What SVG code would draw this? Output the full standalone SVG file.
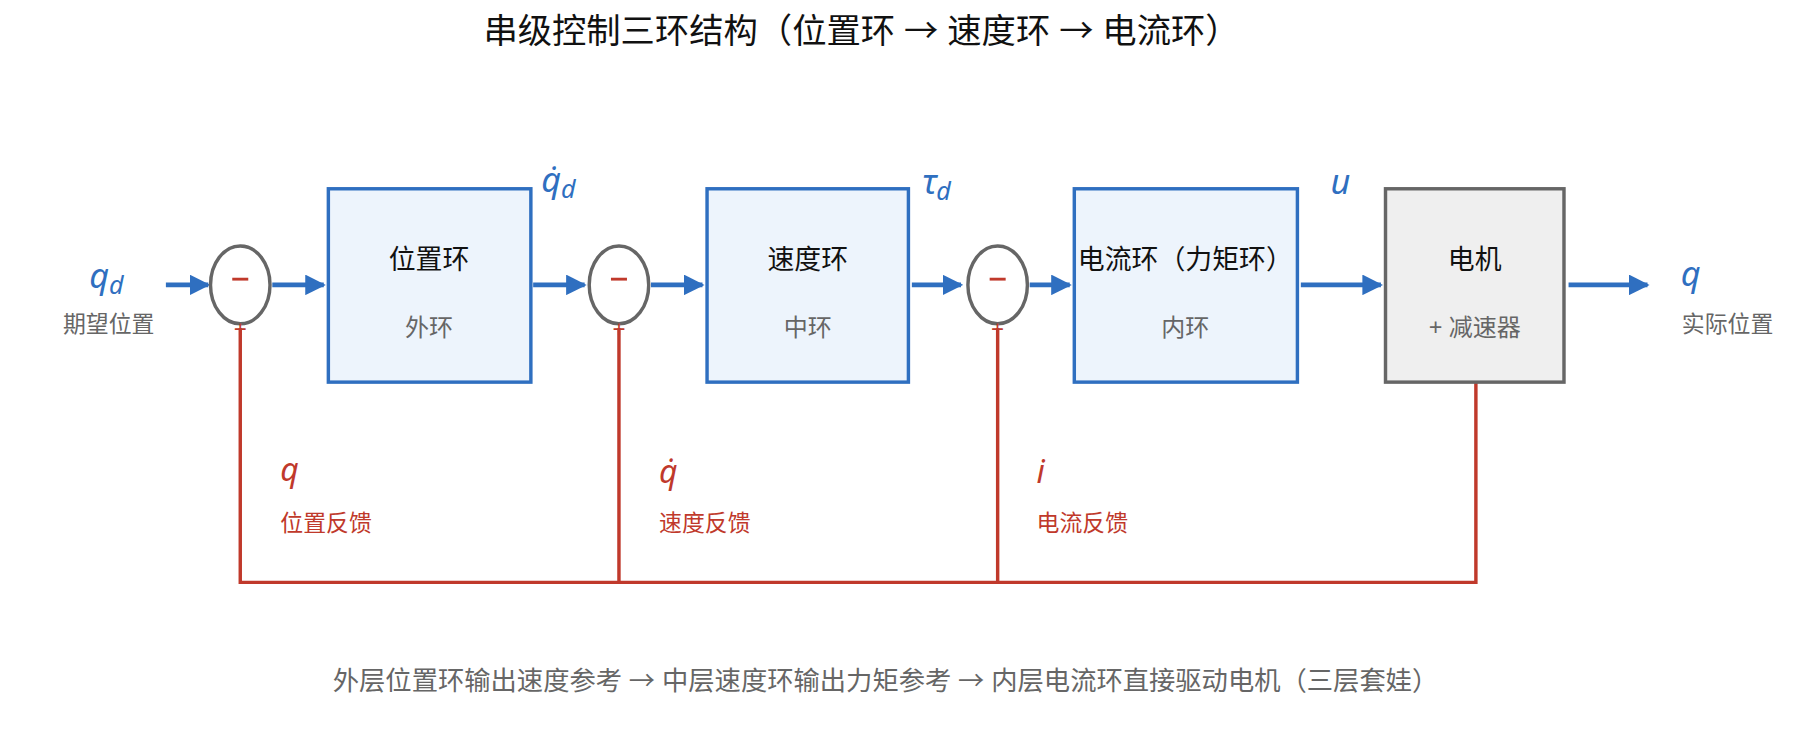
<svg xmlns="http://www.w3.org/2000/svg" width="1794" height="748" viewBox="0 0 1794 748">
<defs>
<marker id="ah" viewBox="0 0 10 10" refX="9" refY="5" markerWidth="4.5" markerHeight="4.5" markerUnits="strokeWidth" orient="auto"><path d="M0,0 L10,5 L0,10 z" fill="#2F6FC0"/></marker>
<style>
text{font-family:"Noto Sans","Noto Sans CJK SC",sans-serif}
.blk{fill:#EDF4FC;stroke:#2F6FC0;stroke-width:3}
.mot{fill:#EFEFEF;stroke:#666;stroke-width:3}
.sum{fill:#fff;stroke:#666;stroke-width:3}
.t1{font-size:23.5px;fill:#111;text-anchor:middle}
.t2{font-size:21px;fill:#666;text-anchor:middle}
.ar{stroke:#2F6FC0;stroke-width:4;fill:none;marker-end:url(#ah)}
.fb{stroke:#C0392B;stroke-width:3;fill:none}
.bl{fill:#2F6FC0;font-style:italic;font-size:30px}
.rd{fill:#C0392B;font-style:italic;font-size:28px}
.rl{fill:#C0392B;font-size:20px}
.gl{fill:#666;font-size:20px}
.mn{stroke:#C0392B;stroke-width:2.5}
.sg{fill:#C0392B;font-size:20px;text-anchor:middle}
</style>
</defs>
<rect width="1794" height="748" fill="#fff"/>
<g transform="scale(1.1441,1.1441)">
<text x="753" y="38" font-size="30" fill="#111" text-anchor="middle">串级控制三环结构（位置环 → 速度环 → 电流环）</text>
<g id="connectors">
<path class="fb" d="M210,287 V509 H1290 V334 M541,287 V509 M872,287 V509"/>
<line class="ar" x1="145" y1="249" x2="182" y2="249"/>
<line class="ar" x1="238" y1="249" x2="283" y2="249"/>
<line class="ar" x1="466" y1="249" x2="511" y2="249"/>
<line class="ar" x1="569" y1="249" x2="614" y2="249"/>
<line class="ar" x1="797" y1="249" x2="840" y2="249"/>
<line class="ar" x1="900" y1="249" x2="935" y2="249"/>
<line class="ar" x1="1137" y1="249" x2="1207" y2="249"/>
<line class="ar" x1="1371" y1="249" x2="1440" y2="249"/>
</g>
<g id="sum1"><ellipse class="sum" cx="210" cy="249" rx="26" ry="34"/><line class="mn" x1="203" y1="244" x2="217" y2="244"/><text class="sg" x="210" y="295">+</text></g>
<g id="sum2"><ellipse class="sum" cx="541" cy="249" rx="26" ry="34"/><line class="mn" x1="534" y1="244" x2="548" y2="244"/><text class="sg" x="541" y="295">+</text></g>
<g id="sum3"><ellipse class="sum" cx="872" cy="249" rx="26" ry="34"/><line class="mn" x1="865" y1="244" x2="879" y2="244"/><text class="sg" x="872" y="295">+</text></g>
<g id="pos"><rect class="blk" x="287" y="165" width="177" height="169"/><text class="t1" x="375" y="235">位置环</text><text class="t2" x="375" y="294">外环</text></g>
<g id="vel"><rect class="blk" x="618" y="165" width="176" height="169"/><text class="t1" x="706" y="235">速度环</text><text class="t2" x="706" y="294">中环</text></g>
<g id="cur"><rect class="blk" x="939" y="165" width="195" height="169"/><text class="t1" x="1036" y="235">电流环（力矩环）</text><text class="t2" x="1036" y="294">内环</text></g>
<g id="motor"><rect class="mot" x="1211" y="165" width="156" height="169"/><text class="t1" x="1289" y="235">电机</text><text class="t2" x="1289" y="294">+ 减速器</text></g>
<g id="labels">
<text class="bl" x="78" y="252">q<tspan font-size="22" dy="5">d</tspan></text>
<text class="gl" x="55" y="290">期望位置</text>
<text class="bl" x="473" y="168" font-size="28">q̇<tspan font-size="22" dy="5">d</tspan></text>
<text class="bl" x="806" y="170" font-size="28">τ<tspan font-size="22" dy="5">d</tspan></text>
<text class="bl" x="1163" y="170" font-size="28">u</text>
<text class="bl" x="1469" y="250">q</text>
<text class="gl" x="1470" y="290">实际位置</text>
<text class="rd" x="245" y="420">q</text>
<text class="rl" x="245" y="464">位置反馈</text>
<text class="rd" x="576" y="422">q̇</text>
<text class="rl" x="576" y="464">速度反馈</text>
<text class="rd" x="906" y="422">i</text>
<text class="rl" x="906" y="464">电流反馈</text>
</g>
<text x="774" y="603" font-size="23" fill="#666" text-anchor="middle">外层位置环输出速度参考 → 中层速度环输出力矩参考 → 内层电流环直接驱动电机（三层套娃）</text>
</g>
</svg>
